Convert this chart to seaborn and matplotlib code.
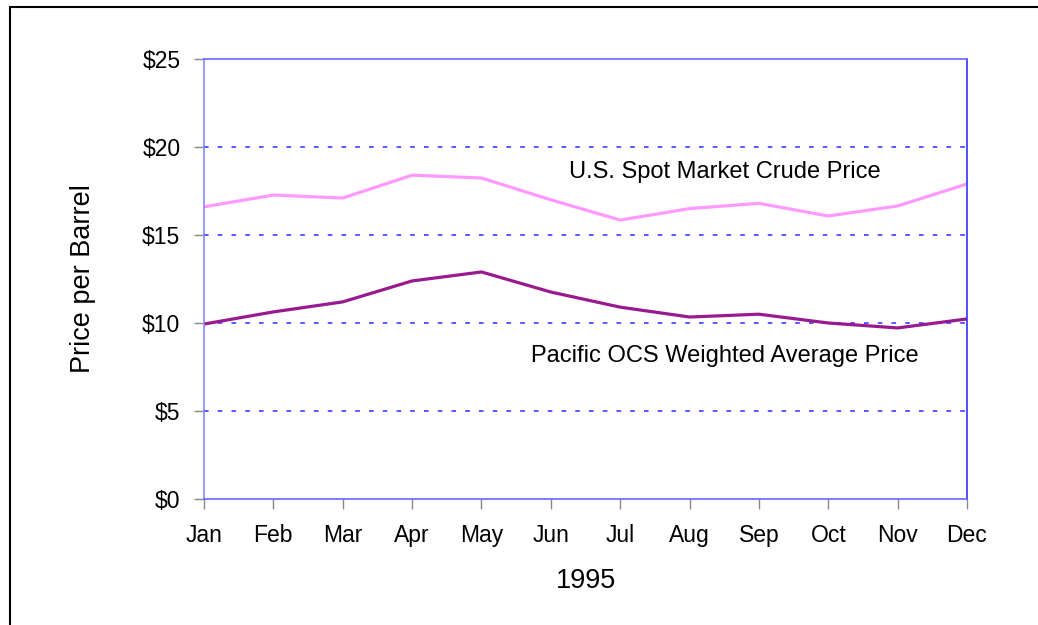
import matplotlib
matplotlib.use("Agg")
import matplotlib.pyplot as plt
import seaborn as sns
import pandas as pd
from matplotlib.lines import Line2D

months = ["Jan", "Feb", "Mar", "Apr", "May", "Jun", "Jul", "Aug", "Sep", "Oct", "Nov", "Dec"]
spot_price = [16.6, 17.27, 17.1, 18.4, 18.24, 17.0, 15.85, 16.5, 16.8, 16.08, 16.65, 17.9]
pacific_price = [9.94, 10.63, 11.2, 12.39, 12.9, 11.76, 10.9, 10.34, 10.5, 10.0, 9.72, 10.23]
series_names = ["U.S. Spot Market Crude Price", "Pacific OCS Weighted Average Price"]
y_ticks = [0, 5, 10, 15, 20, 25]
y_tick_labels = ["$0", "$5", "$10", "$15", "$20", "$25"]

sns.set_theme(style="white")
plt.rcParams['font.family'] = ['Liberation Sans', 'DejaVu Sans']
plt.rcParams['text.color'] = 'black'
plt.rcParams['axes.labelcolor'] = 'black'

df = pd.DataFrame({
    "idx": list(range(len(months))) * 2,
    "price": spot_price + pacific_price,
    "series": [series_names[0]] * len(months) + [series_names[1]] * len(months),
})

fig = plt.figure(figsize=(10.38, 6.25), dpi=100)
ax = fig.add_axes([204 / 1038, 1 - 499 / 625, (967 - 204) / 1038, (499 - 59) / 625])

sns.lineplot(data=df, x="idx", y="price", hue="series",
             palette={series_names[0]: "#ff99ff", series_names[1]: "#991a8f"},
             linewidth=2.3, legend=False, ax=ax)

ax.set_xlim(0, len(months) - 1)
ax.set_ylim(0, 25)
ax.set_xticks(range(len(months)))
ax.set_xticklabels(months)
ax.set_yticks(y_ticks)
ax.set_yticklabels(y_tick_labels)

for y in y_ticks[1:-1]:
    ax.axhline(y, color="#2a2aff", lw=1.1, dashes=(3, 6), zorder=0)

for side, sp in ax.spines.items():
    sp.set_visible(True)
    sp.set_color("#6666ff")
    sp.set_linewidth(1.2)
ax.spines["left"].set_color("#8888ff")
ax.spines["right"].set_color("#3333ff")

ax.tick_params(axis="both", which="major", direction="out", length=7,
               width=1, color="#888888", labelsize=16.5, labelcolor="black",
               left=True, bottom=True)
ax.tick_params(axis="y", pad=10)
ax.tick_params(axis="x", pad=11)

ax.set_xlabel("1995", fontsize=19.5, labelpad=15, color="black")
ax.set_ylabel("Price per Barrel", fontsize=19.5, labelpad=33, color="black")

ax.text(5.26, 18.24, series_names[0], fontsize=17, va="baseline", ha="left", color="black")
ax.text(4.71, 7.78, series_names[1], fontsize=17, va="baseline", ha="left", color="black")

fig.add_artist(Line2D([10 / 1038, 1.0], [1 - 7 / 625, 1 - 7 / 625], color="black", lw=1.5,
                      transform=fig.transFigure))
fig.add_artist(Line2D([10 / 1038, 10 / 1038], [1 - 7 / 625, 0.0], color="black", lw=1.5,
                      transform=fig.transFigure))

fig.savefig("out.png", dpi=100)
